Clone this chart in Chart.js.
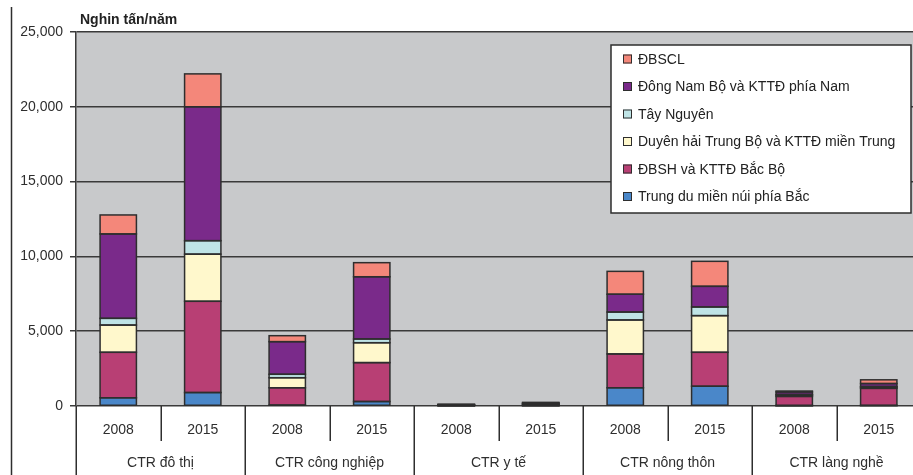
<!DOCTYPE html>
<html>
<head>
<meta charset="utf-8">
<script src="https://cdn.jsdelivr.net/npm/chart.js@4/dist/chart.umd.min.js"></script>
<style>
  html, body { margin: 0; padding: 0; overflow: hidden; background: #fff; }
  canvas { display: block; }
</style>
</head>
<body>
<canvas id="chart" width="921" height="475"></canvas>
<script>
// Categories: each waste type has a 2008 and a 2015 bar
const years = ['2008', '2015', '2008', '2015', '2008', '2015', '2008', '2015', '2008', '2015'];
const groups = ['CTR đô thị', 'CTR công nghiệp', 'CTR y tế', 'CTR nông thôn', 'CTR làng nghề'];
const unitLabel = 'Nghin tấn/năm';
const yTicks = [0, 5000, 10000, 15000, 20000, 25000];

// Regions (stacked bottom to top), values in thousand tonnes per year
const regionNames = [
  'Trung du miền núi phía Bắc',
  'ĐBSH và KTTĐ Bắc Bộ',
  'Duyên hải Trung Bộ và KTTĐ miền Trung',
  'Tây Nguyên',
  'Đông Nam Bộ và KTTĐ phía Nam',
  'ĐBSCL'
];
const trungDu   = [550, 900, 60, 300, 10, 20, 1220, 1320, 20, 30];
const dbsh      = [3040, 6100, 1160, 2600, 40, 80, 2260, 2270, 620, 1150];
const duyenHai  = [1820, 3150, 670, 1330, 20, 40, 2270, 2450, 90, 80];
const tayNguyen = [450, 900, 230, 250, 5, 10, 530, 580, 40, 40];
const dongNamBo = [5640, 8950, 2180, 4160, 30, 70, 1190, 1380, 170, 200];
const dbscl     = [1270, 2200, 400, 940, 10, 20, 1530, 1670, 60, 250];

const regionColors = ['#4a87c9', '#b83f74', '#fff8cc', '#bfe4e6', '#7a2a8a', '#f4877a'];
const seriesValues = [trungDu, dbsh, duyenHai, tayNguyen, dongNamBo, dbscl];

const FONT = '"Liberation Sans", Arial, sans-serif';
const INK = '#2e2e2e';
Chart.defaults.font.family = FONT;
Chart.defaults.color = INK;

// Plot background, bar outlines, category separators, unit label and legend box
const decor = {
  id: 'decor',
  beforeDraw(chart) {
    const { ctx, chartArea: a } = chart;
    ctx.save();
    ctx.fillStyle = '#ffffff';
    ctx.fillRect(0, 0, chart.width, chart.height);
    ctx.fillStyle = '#c8c9cb';
    ctx.fillRect(a.left, a.top, a.right - a.left, a.bottom - a.top);
    ctx.restore();
  },
  afterDatasetsDraw(chart) {
    const ctx = chart.ctx;
    ctx.save();
    ctx.strokeStyle = '#2e2e2e';
    ctx.lineWidth = 1.5;
    chart.data.datasets.forEach((ds, i) => {
      chart.getDatasetMeta(i).data.forEach(bar => {
        const top = Math.min(bar.y, bar.base);
        const h = Math.abs(bar.base - bar.y);
        ctx.strokeRect(bar.x - bar.width / 2, top, bar.width, h);
      });
    });
    ctx.restore();
  },
  afterDraw(chart) {
    const { ctx, chartArea: a } = chart;
    const xs = chart.scales.x;
    ctx.save();
    // separators below the axis: short ones between years, long ones between groups
    const slot = xs.getPixelForValue(1) - xs.getPixelForValue(0);
    const first = xs.getPixelForValue(0) - slot / 2;
    ctx.strokeStyle = INK;
    ctx.lineWidth = 1.5;
    for (let i = 0; i <= years.length; i++) {
      const px = Math.round(first + i * slot) + 0.25;
      ctx.beginPath();
      ctx.moveTo(px, a.bottom);
      ctx.lineTo(px, i % 2 === 0 ? chart.height : xs.bottom);
      ctx.stroke();
    }
    // left frame line
    ctx.beginPath();
    ctx.moveTo(11.5, 7);
    ctx.lineTo(11.5, chart.height);
    ctx.stroke();

    // unit label
    ctx.fillStyle = '#222';
    ctx.font = 'bold 14px ' + FONT;
    ctx.textBaseline = 'alphabetic';
    ctx.textAlign = 'left';
    ctx.fillText(unitLabel, 80, 24);

    // legend box (top entry = top of the stack)
    const box = { x: 611, y: 45, w: 300, h: 168 };
    ctx.fillStyle = '#ffffff';
    ctx.fillRect(box.x, box.y, box.w, box.h);
    ctx.strokeStyle = INK;
    ctx.lineWidth = 1.5;
    ctx.strokeRect(box.x, box.y, box.w, box.h);
    ctx.font = '14px ' + FONT;
    ctx.textBaseline = 'middle';
    const n = chart.data.datasets.length;
    for (let k = 0; k < n; k++) {
      const ds = chart.data.datasets[n - 1 - k];
      const cy = box.y + 14 + k * 27.5;
      ctx.fillStyle = ds.backgroundColor;
      ctx.fillRect(623, cy - 4.5, 9, 9);
      ctx.lineWidth = 1;
      ctx.strokeStyle = INK;
      ctx.strokeRect(623.5, cy - 4, 8, 8);
      ctx.fillStyle = '#222';
      ctx.fillText(ds.label, 638, cy + 1);
    }
    ctx.restore();
  }
};

new Chart(document.getElementById('chart'), {
  type: 'bar',
  data: {
    labels: years,
    datasets: regionNames.map((name, i) => ({
      label: name,
      data: seriesValues[i],
      backgroundColor: regionColors[i],
      borderWidth: 0,
      categoryPercentage: 1.0,
      barPercentage: 0.43
    }))
  },
  options: {
    responsive: false,
    animation: false,
    events: [],
    layout: { padding: { top: 32, left: 0, right: 0, bottom: 0 } },
    plugins: { legend: { display: false }, tooltip: { enabled: false }, title: { display: false } },
    scales: {
      x: {
        type: 'category',
        labels: years,
        stacked: true,
        offset: true,
        weight: 1,
        grid: { display: false },
        border: { display: false },
        ticks: { font: { size: 14 }, color: INK, padding: 8, maxRotation: 0, autoSkip: false },
        afterFit(scale) { scale.height = 35; }
      },
      x2: {
        type: 'category',
        labels: groups,
        position: 'bottom',
        offset: true,
        weight: 2,
        grid: { display: false },
        border: { display: false },
        ticks: { font: { size: 14 }, color: INK, padding: 6, maxRotation: 0, autoSkip: false },
        afterFit(scale) { scale.height = 34; }
      },
      y: {
        stacked: true,
        min: yTicks[0],
        max: yTicks[yTicks.length - 1],
        afterBuildTicks(scale) { scale.ticks = yTicks.map(v => ({ value: v })); },
        grid: { color: '#3a3a3a', lineWidth: 1.5, tickLength: 6, tickColor: '#3a3a3a' },
        border: { display: true, color: '#3a3a3a', width: 1.5 },
        ticks: {
          font: { size: 14 },
          color: INK,
          padding: 7,
          callback: v => v.toLocaleString('en-US')
        },
        afterFit(scale) { scale.width = 76; }
      }
    }
  },
  plugins: [decor]
});
</script>
</body>
</html>
